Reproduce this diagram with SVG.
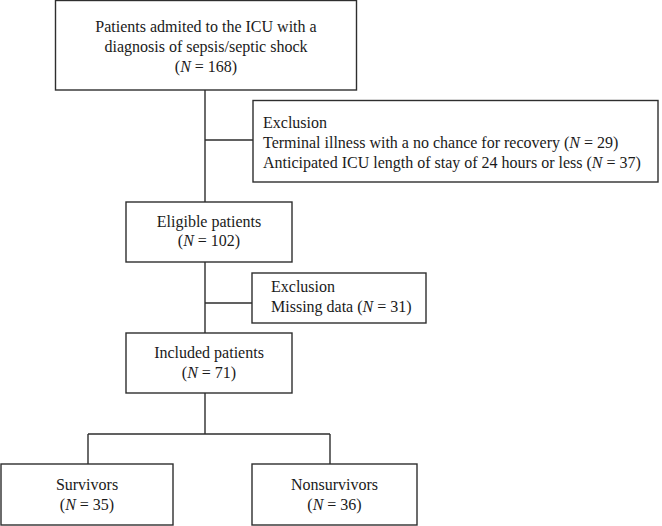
<svg xmlns="http://www.w3.org/2000/svg" width="662" height="526" viewBox="0 0 662 526">
<style>
.box{fill:#fff;stroke:#2e2e2e;stroke-width:1.4}
.ln{fill:none;stroke:#2e2e2e;stroke-width:1.4}
text{font-family:"Liberation Serif","DejaVu Serif",serif;font-size:16px;fill:#1a1a1a}
.c{text-anchor:middle}
</style>
<rect width="662" height="526" fill="#fff"/>
<g id="connectors">
<path class="ln" d="M205,90 V202 M205,140 H253 M205,262 V333 M205,303 H252 M205,393 V434 M88,434 H330 M88,434 V464 M330,434 V464"/>
</g>
<g id="n1">
<rect class="box" x="55.5" y="0.5" width="301" height="89.5"/>
<text class="c" x="206" y="32">Patients admited to the ICU with a</text>
<text class="c" x="206" y="52">diagnosis of sepsis/septic shock</text>
<text class="c" x="206" y="72">(<tspan font-style="italic">N</tspan> = 168)</text>
</g>
<g id="ex1">
<rect class="box" x="253" y="100.5" width="405" height="81.5"/>
<text x="263" y="128">Exclusion</text>
<text x="263" y="148">Terminal illness with a no chance for recovery (<tspan font-style="italic">N</tspan> = 29)</text>
<text x="263" y="168">Anticipated ICU length of stay of 24 hours or less (<tspan font-style="italic">N</tspan> = 37)</text>
</g>
<g id="n2">
<rect class="box" x="126" y="202" width="166" height="60"/>
<text class="c" x="209" y="227">Eligible patients</text>
<text class="c" x="209" y="246">(<tspan font-style="italic">N</tspan> = 102)</text>
</g>
<g id="ex2">
<rect class="box" x="252" y="273" width="174" height="50"/>
<text x="271" y="292">Exclusion</text>
<text x="271" y="312">Missing data (<tspan font-style="italic">N</tspan> = 31)</text>
</g>
<g id="n3">
<rect class="box" x="126" y="333" width="166" height="60"/>
<text class="c" x="209" y="358">Included patients</text>
<text class="c" x="209" y="378">(<tspan font-style="italic">N</tspan> = 71)</text>
</g>
<g id="n4">
<rect class="box" x="1" y="464" width="172" height="61"/>
<text class="c" x="87" y="490">Survivors</text>
<text class="c" x="87" y="510">(<tspan font-style="italic">N</tspan> = 35)</text>
</g>
<g id="n5">
<rect class="box" x="252" y="464" width="165" height="61"/>
<text class="c" x="334.5" y="490">Nonsurvivors</text>
<text class="c" x="334.5" y="510">(<tspan font-style="italic">N</tspan> = 36)</text>
</g>
</svg>
